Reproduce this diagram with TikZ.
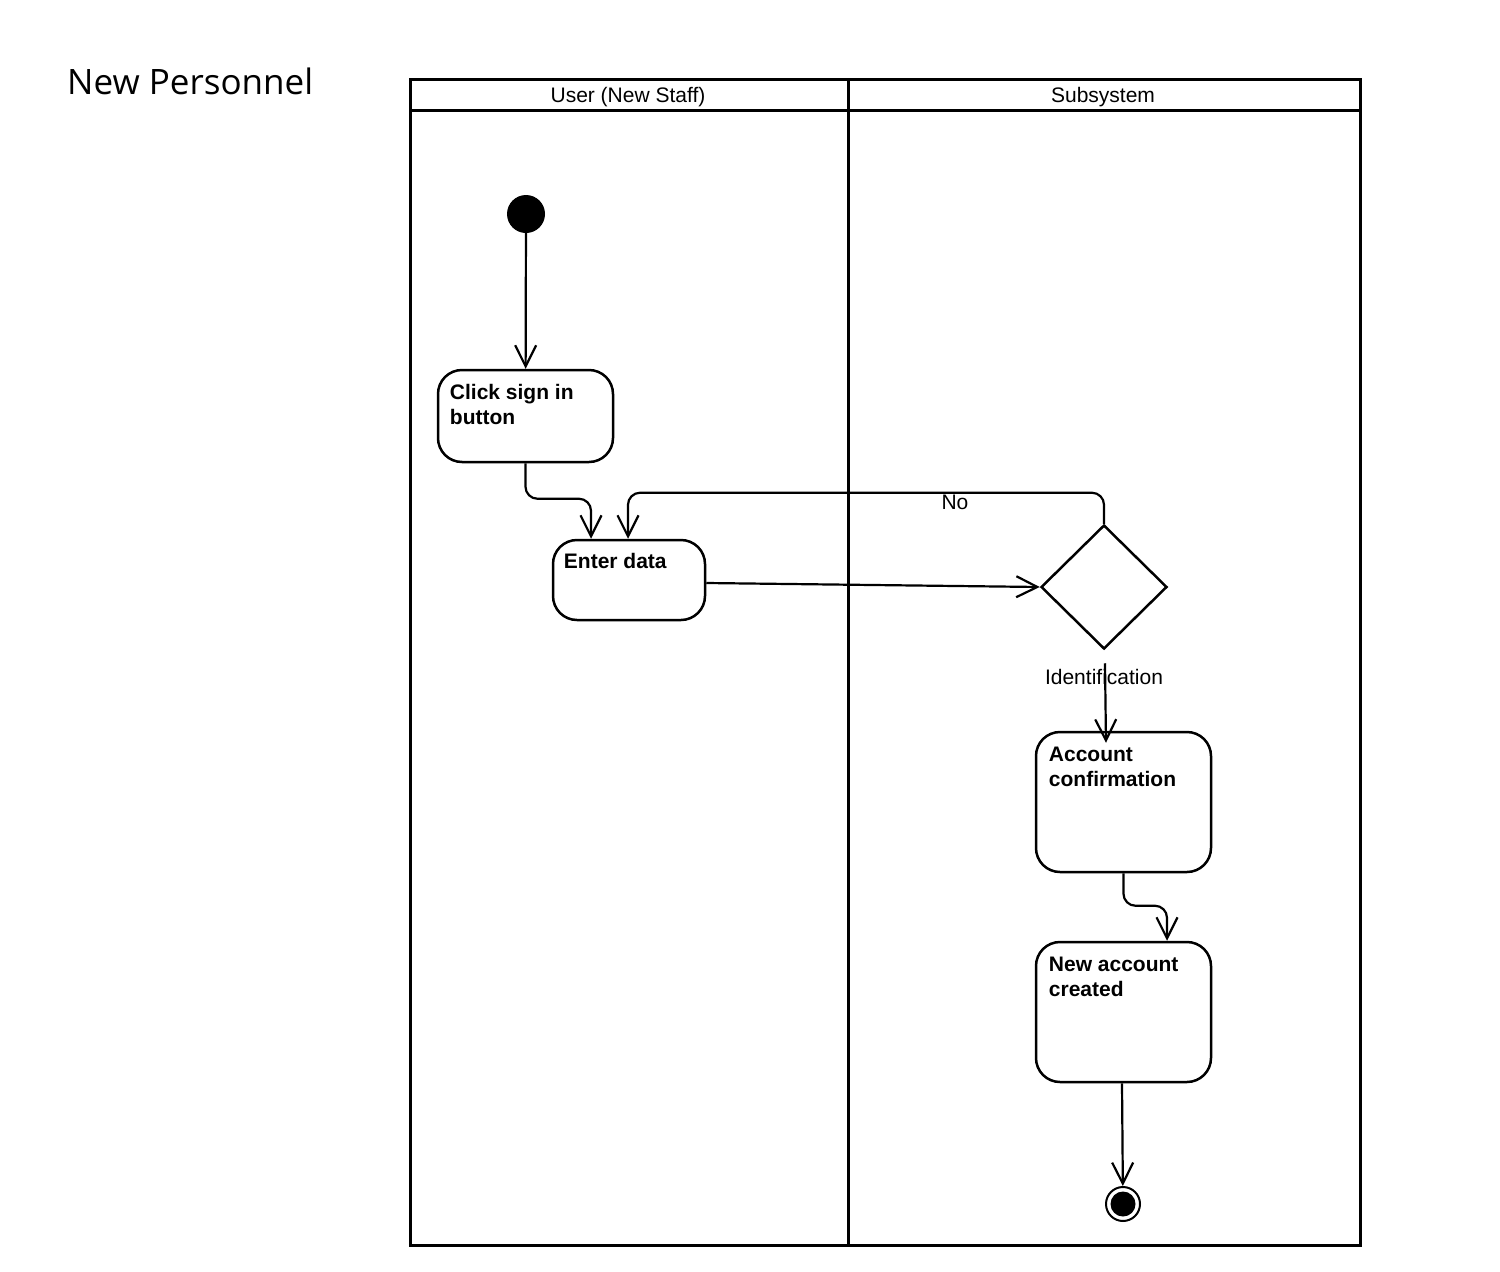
\documentclass[tikz,border=0pt]{standalone}
\usepackage{fontspec}
\setmainfont{Liberation Sans}
\newfontfamily\titlefont{Open Sans}
\usetikzlibrary{arrows.meta,shapes.geometric,calc}

\tikzset{
  pool/.style={line width=3pt},
  actbox/.style={draw, line width=2.5pt, rounded corners=24pt, minimum width=175pt, inner sep=0pt},
  acttext/.style={anchor=base west, inner sep=0pt, align=left, font=\fontsize{21}{25}\selectfont\bfseries},
  lanehead/.style={anchor=base, inner sep=0pt, font=\fontsize{21}{25}\selectfont},
  lbl/.style={anchor=base, inner sep=0pt, font=\fontsize{21}{25}\selectfont},
  flow/.style={line width=2.2pt, -{Straight Barb[length=21pt,width=21pt,line width=2.2pt]}},
}

\begin{document}
\begin{tikzpicture}[x=1pt,y=-1pt]
\useasboundingbox (0,0) rectangle (1500,1272);

% title
\node[anchor=base west, inner sep=0pt, font=\titlefont\fontsize{35}{40}\selectfont] (title) at (67,94) {New Personnel};

% swimlanes
\draw[pool] (410,79) rectangle (1360,1245);
\draw[pool] (410,110) -- (1360,110);
\draw[pool] (848,79) -- (848,1245);
\node[lanehead] (laneuser) at (628,102) {User (New Staff)};
\node[lanehead] (lanesub) at (1103,102) {Subsystem};

% initial node
\node[circle, fill=black, minimum size=38pt, inner sep=0pt] (start) at (526,214) {};

% actions (two-line labels: the base anchor sits on the last line)
\node[actbox, minimum height=92pt] (click) at (525.5,416) {};
\node[acttext] (clicktxt) at ($(click.north west)+(13,56)$) {Click sign in\\button};

\node[actbox, minimum width=152pt, minimum height=80pt] (enter) at (629,580) {};
\node[acttext] (entertxt) at ($(enter.north west)+(12,30)$) {Enter data};

\node[actbox, minimum height=140pt] (acct) at (1123.5,802) {};
\node[acttext] (accttxt) at ($(acct.north west)+(14,56)$) {Account\\confirmation};

\node[actbox, minimum height=140pt] (newacc) at (1123.5,1012) {};
\node[acttext] (newacctxt) at ($(newacc.north west)+(14,56)$) {New account\\created};

% decision
\node[diamond, draw, line width=2.5pt, minimum width=126pt, minimum height=124pt, inner sep=0pt] (dec) at (1104,587) {};

% final node
\node[circle, draw, line width=2pt, minimum size=34pt, inner sep=0pt] (end) at (1123,1204) {};
\node[circle, fill=black, minimum size=25pt, inner sep=0pt] (enddot) at (end) {};

% flows
\draw[flow] (start) -- (click);
\draw[flow, rounded corners=12pt] (click.south) |- ($(enter.north)+(-38,-40)$) -- ($(enter.north)+(-38,0)$);
\draw[flow, rounded corners=12pt] (dec.north) |- ($(enter.north)+(-1,-46)$) -- ($(enter.north)+(-1,0)$);
\node[lbl] (nolbl) at (955,509) {No};
\draw[flow] ($(enter.east)+(0,3)$) -- (dec.west);
\draw[flow] ($(dec.south)+(1,13)$) -- ($(acct.north)+(-17.5,12)$);
\node[lbl] (idlbl) at (1104,684) {Identification};
\draw[flow, rounded corners=12pt] (acct.south) |- ($(newacc.north)+(43.5,-35)$) -- ($(newacc.north)+(43.5,0)$);
\draw[flow] ($(newacc.south)+(-1.5,0)$) -- (end);
\end{tikzpicture}
\end{document}
